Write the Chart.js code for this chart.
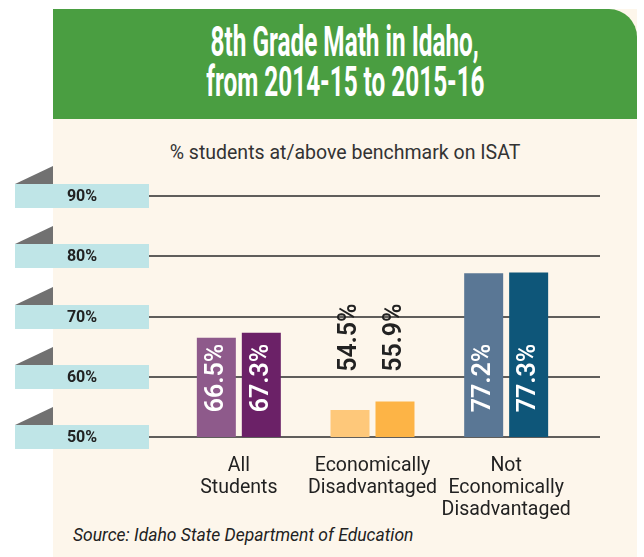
<!DOCTYPE html>
<html>
<head>
<meta charset="utf-8">
<script src="https://cdn.jsdelivr.net/npm/chart.js@4"></script>
<style>
  body { margin: 0; width: 644px; height: 557px; overflow: hidden; background: #fff; position: relative; font-family: Roboto, sans-serif; }
  #panel { position: absolute; left: 53px; top: 9px; width: 584px; height: 548px; background: #fdf6eb; }
  #head { position: absolute; left: 53px; top: 9px; width: 584px; height: 110px; background: #4a9e41; border-top-right-radius: 28px; }
  .tline { position: absolute; left: 53px; width: 584px; text-align: center; color: #fff; font: bold 42px Roboto, sans-serif; line-height: 40px; white-space: nowrap; }
  .tline span { display: inline-block; transform-origin: center; }
  #sub { position: absolute; left: 53px; width: 584px; top: 141px; text-align: center; color: #333; font-size: 19.5px; }
  #src { position: absolute; left: 73px; top: 525px; color: #222; font-style: italic; font-size: 17.5px; }
  canvas { position: absolute; left: 0; top: 0; }
</style>
</head>
<body>
<div id="panel"></div>
<div id="head"></div>
<div class="tline" style="top:22px"><span id="t1">8th Grade Math in Idaho,</span></div>
<div class="tline" style="top:62px"><span id="t2">from 2014-15 to 2015-16</span></div>
<div id="sub">% students at/above benchmark on ISAT</div>
<div id="src">Source: Idaho State Department of Education</div>
<canvas id="chart" width="644" height="557"></canvas>
<script>
// data
const categories = [['All', 'Students'], ['Economically', 'Disadvantaged'], ['Not', 'Economically', 'Disadvantaged']];
const years = ['2014-15', '2015-16'];
const values1415 = [66.5, 54.5, 77.2];
const values1516 = [67.3, 55.9, 77.3];
const yTicks = [50, 60, 70, 80, 90];
const yTickLabels = ['50%', '60%', '70%', '80%', '90%'];

const colors1415 = ['#8e5a8b', '#fec87a', '#5a7795'];
const colors1516 = ['#6b2167', '#fdb446', '#0e5679'];

// squeeze the title into a condensed look
let s = 268 / document.getElementById('t1').offsetWidth;
document.getElementById('t1').style.transform = 'scaleX(' + s + ')';
document.getElementById('t2').style.transform = 'scaleX(' + s + ')';

const tabs = {
    id: 'tabs',
    beforeDatasetsDraw(chart) {
        let ctx = chart.ctx;
        let y = chart.scales.y;
        ctx.save();
        for (let i = 0; i < yTicks.length; i++) {
            let py = Math.round(y.getPixelForValue(yTicks[i]));
            ctx.fillStyle = '#717171';
            ctx.beginPath();
            ctx.moveTo(15, py - 12);
            ctx.lineTo(53, py - 12);
            ctx.lineTo(53, py - 30);
            ctx.closePath();
            ctx.fill();
            ctx.fillStyle = '#bfe5e7';
            ctx.fillRect(15, py - 12, 134, 24);
            ctx.fillStyle = '#222';
            ctx.font = 'bold 16px Roboto, sans-serif';
            ctx.textAlign = 'center';
            ctx.textBaseline = 'middle';
            ctx.fillText(yTickLabels[i], 82, py + 1);
            ctx.strokeStyle = '#2b2b2b';
            ctx.lineWidth = 1.5;
            ctx.beginPath();
            ctx.moveTo(149, py);
            ctx.lineTo(600, py);
            ctx.stroke();
        }
        ctx.restore();
    }
};

const valueLabels = {
    id: 'valueLabels',
    afterDatasetsDraw(chart) {
        let ctx = chart.ctx;
        let y = chart.scales.y;
        ctx.save();
        ctx.font = '600 25px Roboto, sans-serif';
        ctx.textAlign = 'center';
        ctx.textBaseline = 'middle';
        chart.data.datasets.forEach(function (ds, di) {
            chart.getDatasetMeta(di).data.forEach(function (bar, i) {
                let v = ds.data[i];
                let inside = v > 60;
                let cy = inside ? y.getPixelForValue(59.8) : y.getPixelForValue(66.5);
                ctx.save();
                ctx.translate(bar.x, cy);
                ctx.rotate(-Math.PI / 2);
                ctx.fillStyle = inside ? '#ffffff' : '#222222';
                ctx.fillText(v.toFixed(1) + '%', 0, 0);
                ctx.restore();
            });
        });
        ctx.restore();
    }
};

new Chart(document.getElementById('chart'), {
    type: 'bar',
    data: {
        labels: categories,
        datasets: [
            { label: years[0], data: values1415, backgroundColor: colors1415, categoryPercentage: 0.673, barPercentage: 0.867 },
            { label: years[1], data: values1516, backgroundColor: colors1516, categoryPercentage: 0.673, barPercentage: 0.867 }
        ]
    },
    options: {
        responsive: false,
        animation: false,
        devicePixelRatio: 1,
        layout: { padding: { left: 172, right: 71, top: 166, bottom: 30 } },
        plugins: { legend: { display: false }, tooltip: { enabled: false } },
        scales: {
            y: { display: false, min: 50, max: 95 },
            x: {
                grid: { display: false },
                border: { display: false },
                ticks: {
                    color: '#222', padding: 10, maxRotation: 0, minRotation: 0, autoSkip: false,
                    font: { family: 'Roboto, sans-serif', size: 19.5, lineHeight: 1.13 }
                },
                afterFit(scale) { scale.height = 90; }
            }
        }
    },
    plugins: [tabs, valueLabels]
});
</script>
</body>
</html>
